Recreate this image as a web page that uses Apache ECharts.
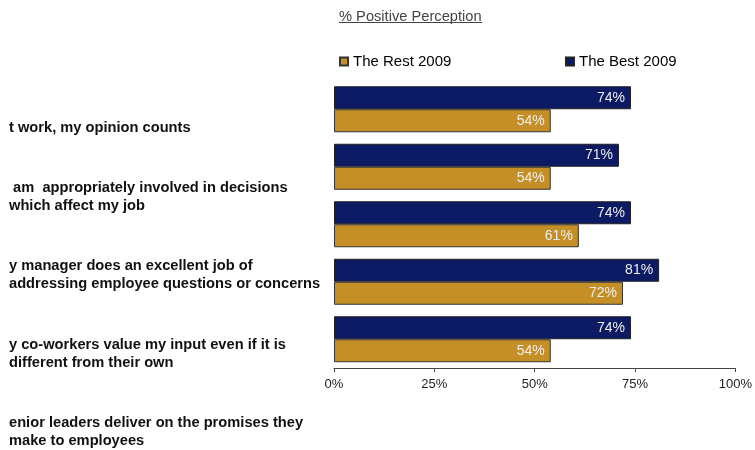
<!DOCTYPE html>
<html><head><meta charset="utf-8">
<script src="https://cdn.jsdelivr.net/npm/echarts@6/dist/echarts.min.js"></script>
<style>html,body{margin:0;padding:0;background:#fff}#c{width:755px;height:450px}</style>
</head><body><div id="c"></div>
<script>
const questionLabels = [
  "t work, my opinion counts",
  " am  appropriately involved in decisions\nwhich affect my job",
  "y manager does an excellent job of\naddressing employee questions or concerns",
  "y co-workers value my input even if it is\ndifferent from their own",
  "enior leaders deliver on the promises they\nmake to employees"
];
const barCategories = ["Q1", "Q2", "Q3", "Q4", "Q5"];
const best2009 = [74, 71, 74, 81, 74];
const rest2009 = [54, 54, 61, 72, 54];
const xTicks = [0, 25, 50, 75, 100];

const FONT = "'Liberation Sans', Arial, sans-serif";
const chart = echarts.init(document.getElementById('c'), null, {renderer: 'canvas'});

const labelData = questionLabels.map((q, i) => i === 0 ? {value: q, textStyle: {verticalAlign: 'top'}} : q);

chart.setOption({
  animation: false,
  textStyle: {fontFamily: FONT},
  title: {
    text: '% Positive Perception',
    left: 334, top: 4,
    textStyle: {fontSize: 14.67, fontWeight: 'normal', color: '#444', fontFamily: FONT}
  },
  graphic: [{
    type: 'line', shape: {x1: 339, y1: 22.5, x2: 482, y2: 22.5},
    style: {stroke: '#444', lineWidth: 1}
  }],
  legend: [{
    data: ['The Rest 2009'], left: 334, top: 49,
    itemWidth: 8, itemHeight: 8,
    textStyle: {fontSize: 15, color: '#000', fontFamily: FONT},
    icon: 'rect'
  }, {
    data: ['The Best 2009'], left: 560, top: 49,
    itemWidth: 8, itemHeight: 8,
    textStyle: {fontSize: 15, color: '#000', fontFamily: FONT},
    icon: 'rect'
  }],
  grid: [
    {left: 334, right: 17, top: 80.5, height: 287.5, containLabel: false},
    {left: 0, width: 1, top: 118.5, height: 315, containLabel: false}
  ],
  xAxis: [{
    type: 'value', gridIndex: 0, min: 0, max: 100, interval: 25,
    axisLine: {show: true, lineStyle: {color: '#444', width: 1}},
    axisTick: {show: true, length: 4, lineStyle: {color: '#444'}},
    splitLine: {show: false},
    axisLabel: {formatter: v => xTicks.includes(v) ? v + '%' : '', fontSize: 13, color: '#222', margin: 10, fontFamily: FONT}
  }, {
    type: 'value', gridIndex: 1, show: false
  }],
  yAxis: [{
    type: 'category', gridIndex: 0, data: barCategories, inverse: true,
    axisLine: {show: false}, axisTick: {show: false}, axisLabel: {show: false}
  }, {
    type: 'category', gridIndex: 1, data: labelData, inverse: true, position: 'right', boundaryGap: false,
    axisLine: {show: false}, axisTick: {show: false}, splitLine: {show: false},
    axisLabel: {show: true, interval: 0, fontSize: 14.67, fontWeight: 'bold', color: '#111', lineHeight: 18, margin: 8, align: 'left', fontFamily: FONT}
  }],
  series: [{
    name: 'The Best 2009', type: 'bar', xAxisIndex: 0, yAxisIndex: 0,
    data: best2009, barWidth: 23, barGap: '0%',
    itemStyle: {color: '#0B1A62', borderColor: '#222', borderWidth: 1},
    label: {show: true, position: 'insideRight', distance: 6, formatter: p => p.value + '%', color: '#eee', fontSize: 14, fontFamily: FONT}
  }, {
    name: 'The Rest 2009', type: 'bar', xAxisIndex: 0, yAxisIndex: 0,
    data: rest2009, barWidth: 23, barGap: '0%',
    itemStyle: {color: '#C48F27', borderColor: '#333', borderWidth: 1},
    label: {show: true, position: 'insideRight', distance: 6, formatter: p => p.value + '%', color: '#eee', fontSize: 14, fontFamily: FONT}
  }]
});
</script></body></html>
